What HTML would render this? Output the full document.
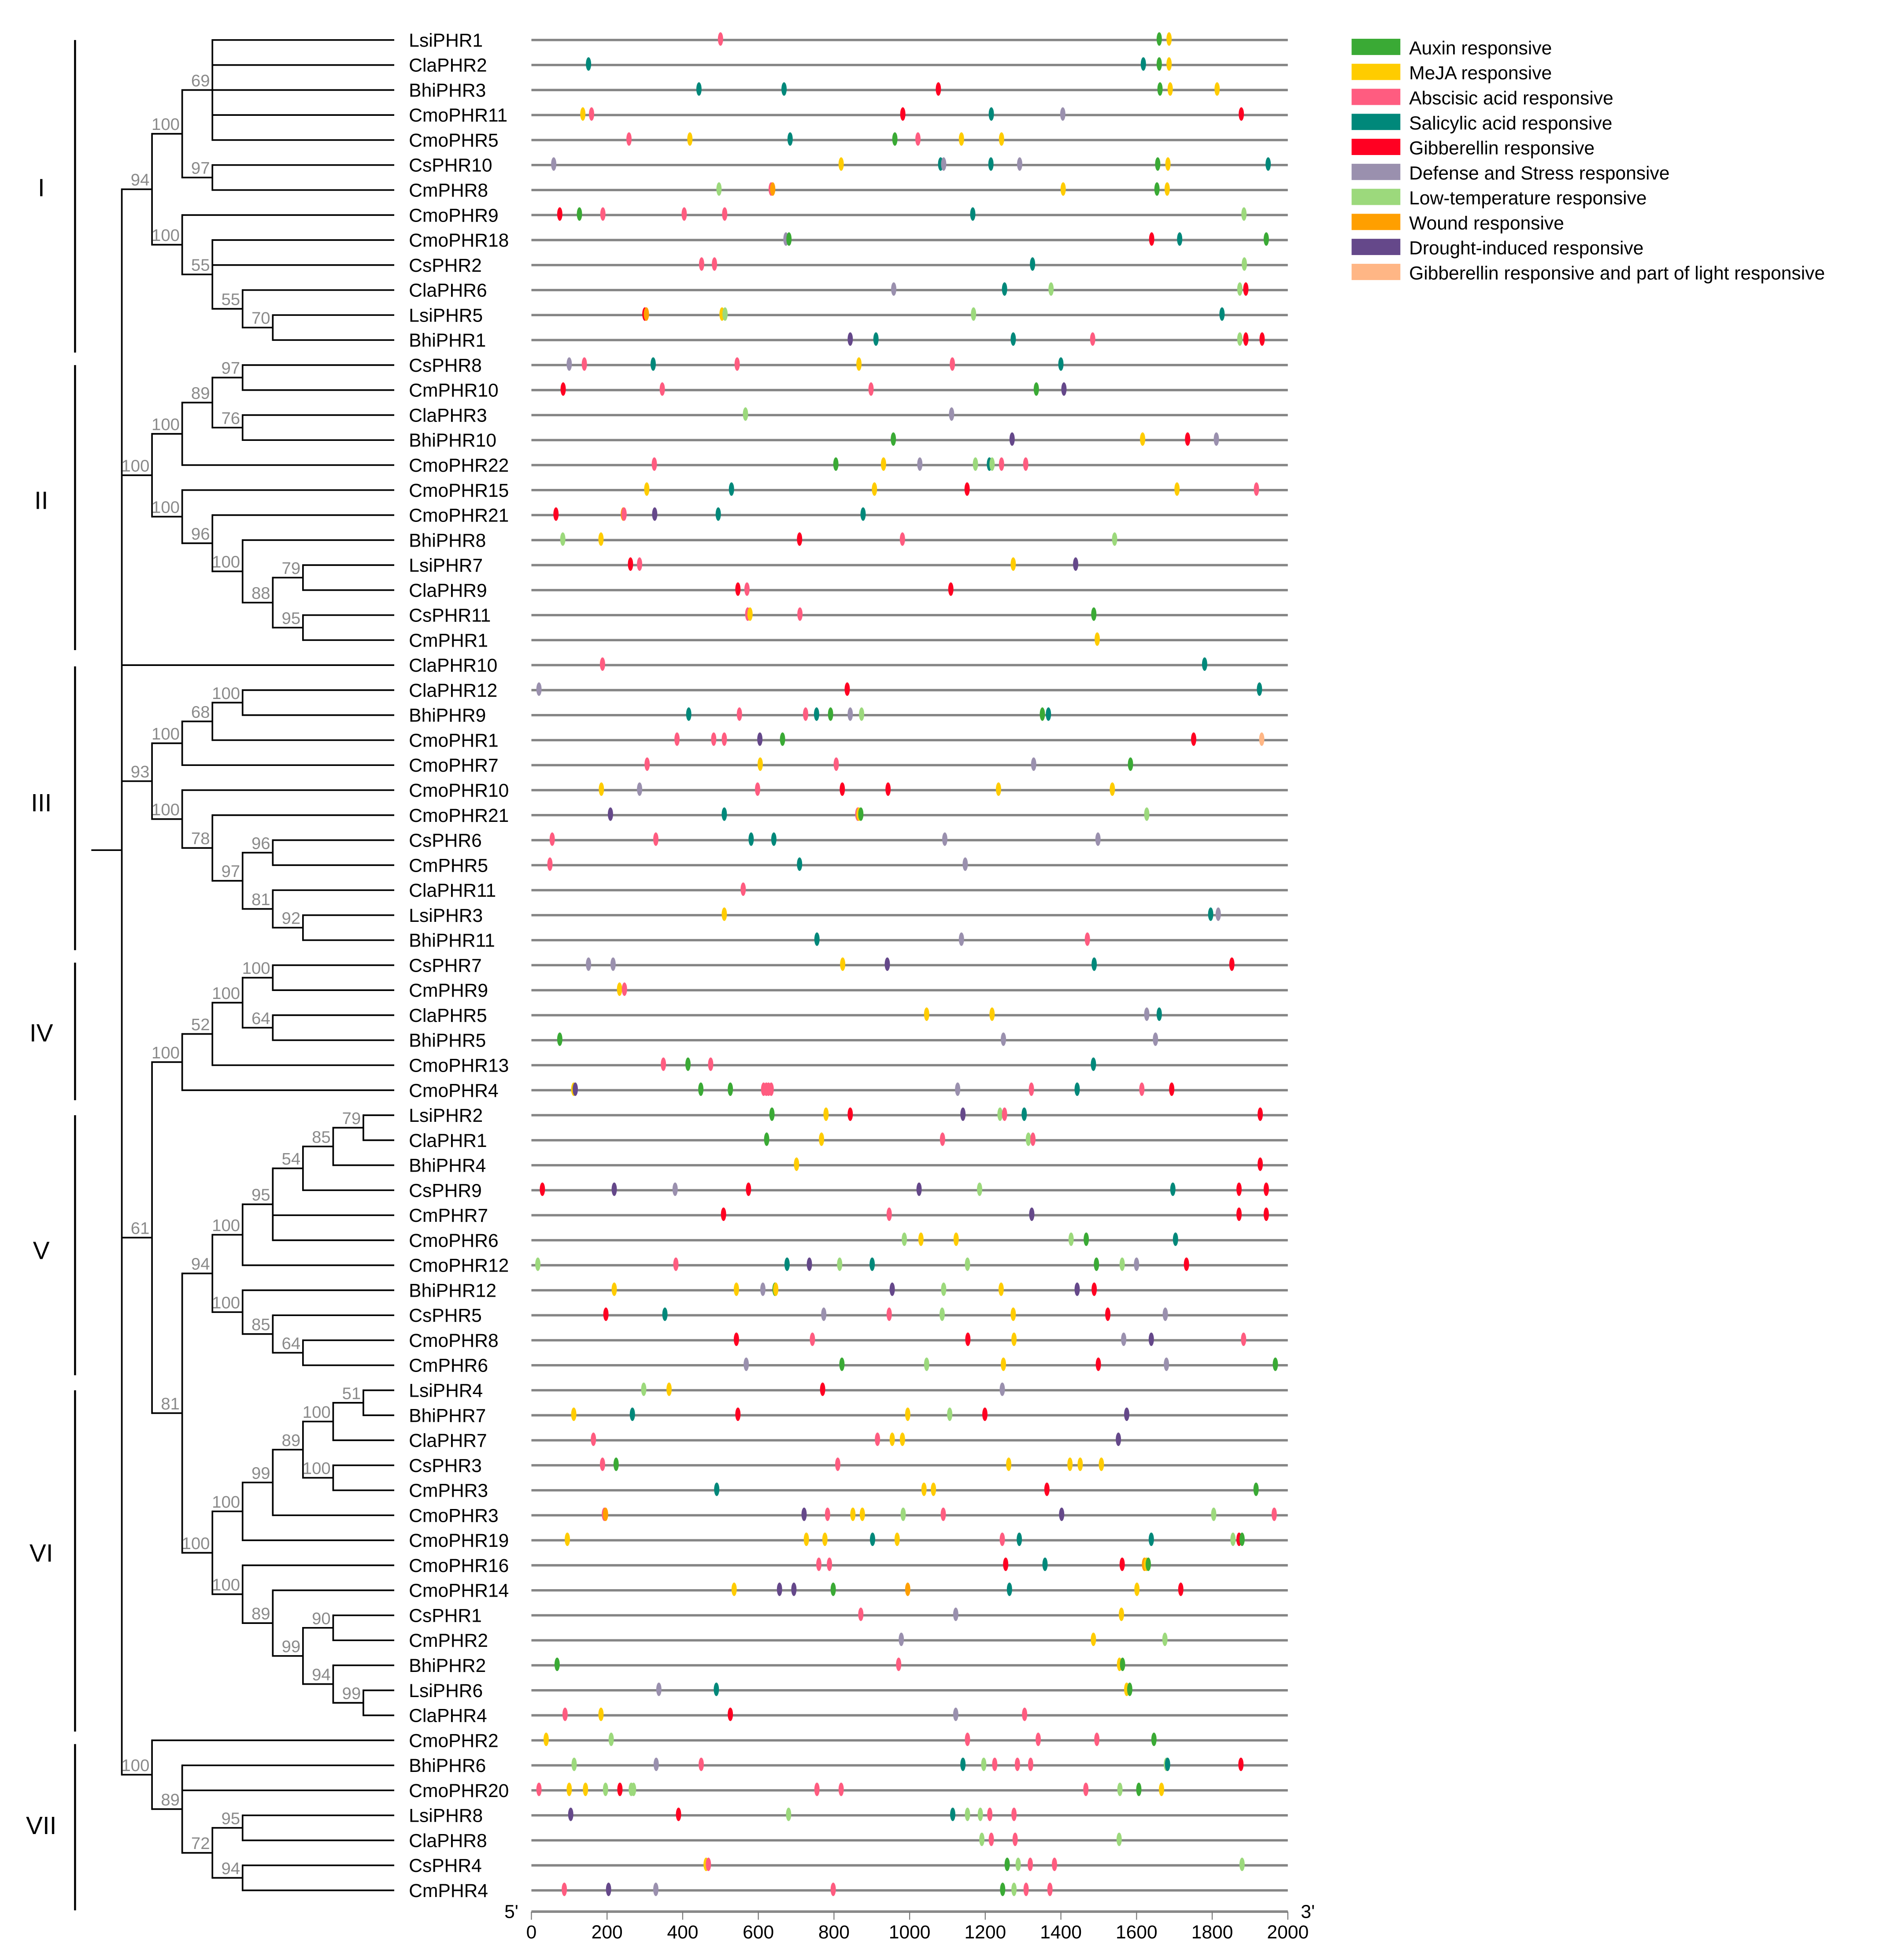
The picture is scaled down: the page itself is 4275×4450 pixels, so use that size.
<!DOCTYPE html>
<html><head><meta charset="utf-8"><style>
html,body{margin:0;padding:0;background:#fff;}
svg{display:block;}
text{font-family:"Liberation Sans",Arial,sans-serif;}
</style></head>
<body>
<svg id="fig" xmlns="http://www.w3.org/2000/svg" width="4275" height="4450" viewBox="0 0 1506 1567.7">
<g id="tree"></g>
<g id="clades"></g>
<g id="labels"></g>
<g id="genes"></g>
<g id="axis"></g>
<g id="legend"></g>
</svg>
<script>
const genes=["LsiPHR1","ClaPHR2","BhiPHR3","CmoPHR11","CmoPHR5","CsPHR10","CmPHR8","CmoPHR9","CmoPHR18","CsPHR2","ClaPHR6","LsiPHR5","BhiPHR1",
"CsPHR8","CmPHR10","ClaPHR3","BhiPHR10","CmoPHR22","CmoPHR15","CmoPHR21","BhiPHR8","LsiPHR7","ClaPHR9","CsPHR11","CmPHR1","ClaPHR10",
"ClaPHR12","BhiPHR9","CmoPHR1","CmoPHR7","CmoPHR10","CmoPHR21","CsPHR6","CmPHR5","ClaPHR11","LsiPHR3","BhiPHR11",
"CsPHR7","CmPHR9","ClaPHR5","BhiPHR5","CmoPHR13","CmoPHR4",
"LsiPHR2","ClaPHR1","BhiPHR4","CsPHR9","CmPHR7","CmoPHR6","CmoPHR12","BhiPHR12","CsPHR5","CmoPHR8","CmPHR6",
"LsiPHR4","BhiPHR7","ClaPHR7","CsPHR3","CmPHR3","CmoPHR3","CmoPHR19","CmoPHR16","CmoPHR14","CsPHR1","CmPHR2","BhiPHR2","LsiPHR6","ClaPHR4",
"CmoPHR2","BhiPHR6","CmoPHR20","LsiPHR8","ClaPHR8","CsPHR4","CmPHR4"];
const motifTypes={A:"Auxin responsive",M:"MeJA responsive",B:"Abscisic acid responsive",S:"Salicylic acid responsive",G:"Gibberellin responsive",D:"Defense and Stress responsive",L:"Low-temperature responsive",W:"Wound responsive",R:"Drought-induced responsive",P:"Gibberellin responsive and part of light responsive"};
const motifColors={A:"#3aaa35",M:"#ffcc00",B:"#ff5c80",S:"#00887a",G:"#ff0022",D:"#9a90ae",L:"#9cd97c",W:"#ff9f00",R:"#65488a",P:"#ffb685"};
const legendOrder=["A","M","B","S","G","D","L","W","R","P"];
const motifs=[
"B500 A1660 M1686","S151 S1618 A1660 M1686","S443 S668 G1076 A1662 M1689 M1813","M136 B159 G982 S1216 D1405 G1877",
"B258 M419 S684 A961 B1022 M1137 M1243","D59 M819 S1082 D1090 S1215 D1291 A1656 M1683 S1948","L496 B634 W638 M1406 A1654 M1681",
"G75 A127 B189 B404 B511 S1167 L1884","D673 A681 G1640 S1714 A1943","B450 B484 S1325 L1885","D958 S1251 L1374 L1873 G1889",
"G300 W304 M504 L512 L1169 S1826","R843 S911 S1274 B1484 L1873 G1889 G1932",
"D100 B140 S322 B544 M866 B1113 S1400","G84 B346 B898 A1335 R1408","L566 D1111","A957 R1271 M1616 G1735 D1811",
"B325 A805 M931 D1027 L1174 S1211 L1218 B1243 B1307","M305 S529 M907 G1152 M1707 B1917","G65 W243 B245 R326 S494 S877",
"L83 M184 G709 B981 L1542","G262 B286 M1274 R1439","G546 B570 G1109","B572 M578 B710 A1487","M1496","B188 S1780",
"D20 G835 S1925","S416 B550 B725 S754 A791 D843 L873 A1351 S1367","B385 B482 B510 R604 A664 G1751 P1931",
"B306 M605 B806 D1328 A1584","M185 D286 B598 G822 G943 M1235 M1536","R209 S510 B863 M866 A871 L1627",
"B55 B329 S581 S641 D1093 D1498","B49 S709 D1147","B560","M510 S1796 D1816","S755 D1137 B1470",
"D151 D216 M823 R941 S1488 G1852","M233 B246","M1045 M1218 D1627 S1660","A75 D1248 D1650","B349 A414 B474 S1486",
"M112 R116 A448 A526 B614 B621 B627 B634 D1127 B1322 S1443 B1614 G1693",
"A636 M779 G843 R1141 L1239 B1251 S1303 G1927","A622 M767 B1087 L1314 B1326","M701 G1927",
"G29 R219 D380 G574 R1025 L1185 S1696 G1871 G1943","G508 B946 R1323 G1871 G1943","L986 M1030 M1123 L1427 A1467 S1703",
"L17 B382 S676 R735 L815 S901 L1153 A1494 L1562 D1600 G1732","M219 M542 D612 A644 M646 R954 L1090 M1242 R1443 G1488",
"G197 S353 D773 B946 L1086 M1274 G1524 D1676","G542 B743 G1154 M1276 D1566 R1639 B1883","D568 A821 L1045 M1248 G1499 D1679 A1967",
"L297 M364 G770 D1245","M112 S267 G546 M995 L1106 G1199 R1574","B164 B915 M954 M981 R1552","B188 A224 B810 M1262 M1424 M1451 M1507",
"S490 M1038 M1063 G1363 A1916","B193 W196 R721 B783 M850 M875 L983 B1089 R1402 L1804 B1964",
"M95 M727 M776 S902 M967 B1245 S1290 S1639 L1855 G1871 A1879","B760 B788 G1254 S1358 G1562 W1621 M1626 A1631",
"M536 R656 R694 A798 W995 S1264 M1601 G1717","B871 D1122 M1560","D978 M1486 L1675","A68 B971 M1555 A1563",
"D337 S489 M1574 A1582","B89 M184 G526 D1122 B1304",
"M39 L211 B1153 B1340 B1495 A1646","L113 D330 B449 S1141 L1196 B1225 B1285 B1320 L1679 S1682 G1876",
"B20 M100 M143 L196 G234 L264 L270 B755 B819 B1466 L1556 A1606 M1666","R104 G389 L680 S1114 L1153 L1187 B1212 B1276",
"L1191 B1216 B1279 L1554","M462 B468 A1258 L1287 B1319 B1383 L1879","B87 R204 D329 B798 A1246 L1276 B1308 B1371"];
const axisTicks=[0,200,400,600,800,1000,1200,1400,1600,1800,2000];
const cladeNames=["I","II","III","IV","V","VI","VII"];
const cladeSpans=[[32,282],[292,520],[533,760],[770,880],[892,1100],[1112,1385],[1395,1528]];
const cladeLabelY=[150,400,642,826,1000,1242,1460];

const NS="http://www.w3.org/2000/svg";
function mk(tag,attrs,parent){const e=document.createElementNS(NS,tag);for(const k in attrs)e.setAttribute(k,attrs[k]);parent.appendChild(e);return e;}
const X0=425,X1=1030,BPMAX=2000;
const xs=bp=>X0+bp/BPMAX*(X1-X0);
const rowY=i=>32+i*20;
const L0=97.4,LSTEP=24.15,LEAFX=315.3;

function n(b,...c){return {b:b,c:c};}
const A=n('94',n('100',n('69',0,1,2,3,4),n('97',5,6)),n('100',7,n('55',8,9,n('55',10,n('70',11,12)))));
const I=n('100',n('100',n('89',n('97',13,14),n('76',15,16)),17),n('100',18,n('96',19,n('100',20,n('88',n('79',21,22),n('95',23,24))))));
const T=n('93',n('100',n('68',n('100',26,27),28),29),n('100',30,n('78',31,n('97',n('96',32,33),n('81',34,n('92',35,36))))));
const AA=n('61',n('100',n('52',n('100',n('100',37,38),n('64',39,40)),41),42),
 n('81',n('94',n('100',n('95',n('54',n('85',n('79',43,44),45),46),47,48),49),n('100',50,n('85',51,n('64',52,53)))),
 n('100',n('100',n('99',n('89',n('100',n('51',54,55),56),n('100',57,58)),59),60),n('100',61,n('89',62,n('99',n('90',63,64),n('94',65,n('99',66,67))))))));
const AN=n('100',68,n('89',69,70,n('72',n('95',71,72),n('94',73,74))));
const root=n('',A,I,25,T,AA,AN);

const tree=document.getElementById('tree');
function nodeY(nd){if(typeof nd==='number')return rowY(nd);return (nodeY(nd.c[0])+nodeY(nd.c[nd.c.length-1]))/2;}
function draw(nd,depth,parentX){
  const y=nodeY(nd);
  if(typeof nd==='number'){
    const l=mk('line',{x1:parentX,y1:y,x2:LEAFX,y2:y,stroke:'#000','stroke-width':1.3},tree);
    
    
    return;
  }
  const x=L0+depth*LSTEP;
  if(parentX!==null){
    const h=mk('line',{x1:parentX,y1:y,x2:x,y2:y,stroke:'#000','stroke-width':1.3},tree);
    
    
  }
  const v=mk('line',{x1:x,y1:nodeY(nd.c[0])-0.65,x2:x,y2:nodeY(nd.c[nd.c.length-1])+0.65,stroke:'#000','stroke-width':1.3},tree);
  
  
  if(nd.b){
    const t=mk('text',{x:x-2,y:y-3,'text-anchor':'end','font-size':13.5,fill:'#8a8a8a'},tree);
    t.textContent=nd.b;
    
    
  }
  nd.c.forEach(ch=>draw(ch,depth+1,x));
}
draw(root,0,null);
const stub=mk('line',{x1:73,y1:680,x2:L0,y2:680,stroke:'#000','stroke-width':1.3},tree);



const clades=document.getElementById('clades');
cladeSpans.forEach((r,k)=>{
  const l=mk('line',{x1:60,y1:r[0],x2:60,y2:r[1],stroke:'#000','stroke-width':1.6},clades);
  
  
  const t=mk('text',{x:33,y:cladeLabelY[k]+7,'text-anchor':'middle','font-size':20,fill:'#000'},clades);
  t.textContent=cladeNames[k];
  
  
});

const labels=document.getElementById('labels');
const gg=document.getElementById('genes');
genes.forEach((g,i)=>{
  const y=rowY(i);
  const t=mk('text',{x:327,y:y+5.3,'font-size':15,fill:'#000'},labels);
  t.textContent=g;
  
  
  const l=mk('line',{x1:X0,y1:y,x2:X1,y2:y,stroke:'#858585','stroke-width':1.9},gg);
  
  
  motifs[i].split(' ').forEach(tok=>{
    const ty=tok[0],bp=+tok.slice(1);
    const e=mk('ellipse',{cx:xs(bp),cy:y-0.8,rx:2.1,ry:5.4,fill:motifColors[ty]},gg);
    
    
  });
});

const ax=document.getElementById('axis');
const al=mk('line',{x1:X0,y1:1529,x2:X1,y2:1529,stroke:'#888','stroke-width':2},ax);


axisTicks.forEach(v=>{
  const tk=mk('line',{x1:xs(v),y1:1529,x2:xs(v),y2:1535.5,stroke:'#777','stroke-width':0.8},ax);
  
  
  const t=mk('text',{x:xs(v),y:1550.5,'text-anchor':'middle','font-size':15,fill:'#000'},ax);
  t.textContent=v;
  
  
});
const p5=mk('text',{x:409,y:1534,'text-anchor':'middle','font-size':15,fill:'#000'},ax);
p5.textContent="5'";


const p3=mk('text',{x:1046,y:1534,'text-anchor':'middle','font-size':15,fill:'#000'},ax);
p3.textContent="3'";



const lg=document.getElementById('legend');
legendOrder.forEach((k,i)=>{
  const r=mk('rect',{x:1081,y:31+i*20,width:39,height:13,fill:motifColors[k]},lg);
  
  
  const t=mk('text',{x:1127,y:43.5+i*20,'font-size':15,fill:'#000'},lg);
  t.textContent=motifTypes[k];
  
  
});
</script>
</body></html>
